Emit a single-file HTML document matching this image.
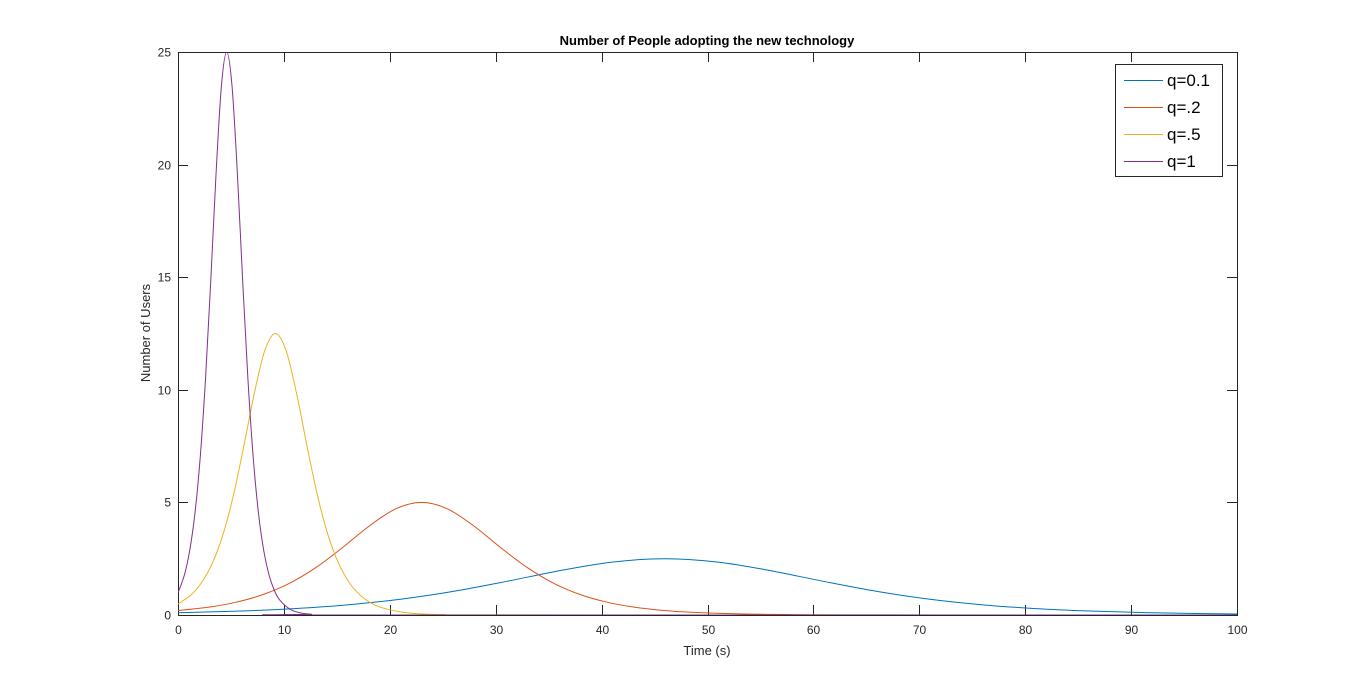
<!DOCTYPE html>
<html><head><meta charset="utf-8"><style>
body{margin:0;background:#fff;}
svg{display:block;font-family:"Liberation Sans",Arial,sans-serif;}
</style></head><body>
<svg id="chart" width="1366" height="691"></svg>
<script>
const xTicks=[0,10,20,30,40,50,60,70,80,90,100];
const yTicks=[0,5,10,15,20,25];
const seriesNames=["q=0.1","q=.2","q=.5","q=1"];
const blueT=[0,6,11,16,21,26,31,36,41,46,51,56,61,66,71,76,81,86,91,96,100];
const blueV=[0.099,0.177,0.285,0.452,0.701,1.05,1.49,1.966,2.35,2.5,2.35,1.966,1.49,1.05,0.701,0.452,0.285,0.177,0.109,0.066,0.045];
const redT=[0,3,5.5,8,10.5,13,15.5,18,20.5,23,25.5,28,30.5,33,35.5,38,40.5,43,45.5,48,53,58,63,73,100];
const redV=[0.197,0.354,0.569,0.904,1.402,2.1,2.98,3.93,4.7,5,4.7,3.93,2.98,2.1,1.402,0.904,0.569,0.354,0.218,0.133,0.049,0.018,0.0067,0.0009,0];
const yellowT=[0,1.2,2.2,3.2,4.2,5.2,6.2,7.2,8.2,9.2,10.2,11.2,12.2,13.2,14.2,15.2,16.2,17.2,18.2,19.2,21.2,23.2,25.2,30,100];
const yellowV=[0.49,0.88,1.42,2.26,3.5,5.25,7.46,9.83,11.75,12.5,11.75,9.83,7.46,5.25,3.5,2.26,1.42,0.88,0.54,0.33,0.12,0.045,0.017,0.003,0];
const purpleT=[0,0.6,1.1,1.6,2.1,2.6,3.1,3.6,4.1,4.6,5.1,5.6,6.1,6.6,7.1,7.6,8.1,8.6,9.1,9.6,10.6,11.6,12.6,15,100];
const purpleV=[0.985,1.77,2.85,4.52,7.01,10.5,14.9,19.66,23.5,25,23.5,19.66,14.9,10.5,7.01,4.52,2.85,1.77,1.09,0.67,0.25,0.09,0.034,0.001,0];

const L=178,R=1237,T=52,B=615;
const xs=v=>L+(v-0)/100*(R-L);
const ys=v=>B-(v-0)/25*(B-T);
const NS="http://www.w3.org/2000/svg";
const svg=document.getElementById('chart');
function mk(tag,attrs,parent){const e=document.createElementNS(NS,tag);for(const k in attrs)e.setAttribute(k,attrs[k]);(parent||svg).appendChild(e);return e;}

let t=mk('text',{x:707,y:45,'text-anchor':'middle','font-size':13,'font-weight':'bold',fill:'#000'});
t.textContent='Number of People adopting the new technology';



let box=mk('rect',{x:L+0.5,y:T+0.5,width:R-L,height:B-T,fill:'#fff',stroke:'#262626','stroke-width':1});



xTicks.forEach(v=>{
  const x=Math.round(xs(v))+0.5;
  let l=mk('path',{d:`M${x},${B}v-10M${x},${T}v10`,stroke:'#262626'});
  
  
  let tx=mk('text',{x:x,y:B+19,'text-anchor':'middle','font-size':12,fill:'#262626'});
  tx.textContent=v;
  
  
});
yTicks.forEach(v=>{
  const y=Math.round(ys(v))+0.5;
  let l=mk('path',{d:`M${L},${y}h10M${R},${y}h-10`,stroke:'#262626'});
  
  
  let tx=mk('text',{x:L-7,y:y+4,'text-anchor':'end','font-size':12,fill:'#262626'});
  tx.textContent=v;
  
  
});
let xt=mk('text',{x:707,y:655,'text-anchor':'middle','font-size':13,fill:'#262626'});
xt.textContent='Time (s)';


let yt=mk('text',{x:0,y:0,'text-anchor':'middle','font-size':13,fill:'#262626',transform:'translate(150,333) rotate(-90)'});
yt.textContent='Number of Users';



const colors=['#0072BD','#D95319','#EDB120','#7E2F8E'];
const data=[[blueT,blueV],[redT,redV],[yellowT,yellowV],[purpleT,purpleV]];
const clip=mk('clipPath',{id:'clip'});mk('rect',{x:L,y:T,width:R-L,height:B-T},clip);
function curve(T_,V){
  const p=T_.map((tt,i)=>[xs(tt),ys(V[i])]);
  let d=`M${p[0][0]},${p[0][1]}`;
  for(let i=0;i<p.length-1;i++){
    const p0=p[Math.max(0,i-1)],p1=p[i],p2=p[i+1],p3=p[Math.min(p.length-1,i+2)];
    const c1=[p1[0]+(p2[0]-p0[0])/6,p1[1]+(p2[1]-p0[1])/6];
    const c2=[p2[0]-(p3[0]-p1[0])/6,p2[1]-(p3[1]-p1[1])/6];
    c1[1]=Math.min(c1[1],B);c2[1]=Math.min(c2[1],B);
    d+=`C${c1[0]},${c1[1]} ${c2[0]},${c2[1]} ${p2[0]},${p2[1]}`;
  }
  return d;
}
const sNames=['series-q0-1','series-q0-2','series-q0-5','series-q1'];
data.forEach((s,i)=>{
  let p=mk('path',{d:curve(s[0],s[1]),fill:'none',stroke:colors[i],'stroke-width':1,'clip-path':'url(#clip)'});
  
  
});

const lg=mk('g',{});


mk('rect',{x:1115.5,y:64.5,width:107,height:112,fill:'#fff',stroke:'#262626'},lg);
seriesNames.forEach((n,i)=>{
  const y=80+i*27;
  let l=mk('line',{x1:1124,x2:1163,y1:y+0.5,y2:y+0.5,stroke:colors[i]},lg);
  
  
  let tx=mk('text',{x:1167,y:y+6,'font-size':17,fill:'#000'},lg);
  tx.textContent=n;
  
  
});
</script>
</body></html>
